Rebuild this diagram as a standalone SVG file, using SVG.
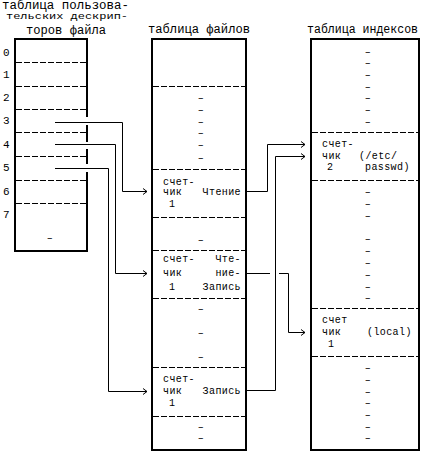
<svg xmlns="http://www.w3.org/2000/svg" width="422" height="454" viewBox="0 0 422 454">
<style>
text{font-family:"Liberation Mono","DejaVu Sans Mono",monospace;fill:#000;font-size:10px;letter-spacing:0.4px}
.n{font-size:11px;letter-spacing:0}
.t{font-size:12px;letter-spacing:0}
.t2{font-size:9px;letter-spacing:0}
.b{fill:none;stroke:#000;stroke-width:2}
.d{stroke:#000;stroke-width:1;stroke-dasharray:6 2;fill:none}
.c{fill:none;stroke:#000;stroke-width:1}
.m{text-anchor:middle}
.e{text-anchor:end}
</style>
<defs>
<marker id="ah" markerWidth="8" markerHeight="8" refX="6" refY="4" orient="auto" markerUnits="userSpaceOnUse">
<polyline points="2,1 6,4 2,7" fill="none" stroke="#000" stroke-width="1"/>
</marker>
</defs>
<rect width="422" height="454" fill="#fff"/>

<g id="user-fd-table">
<text class="t" x="2" y="9" textLength="127" lengthAdjust="spacingAndGlyphs">таблица пользова-</text>
<text class="t2" x="6" y="19" textLength="122" lengthAdjust="spacingAndGlyphs">тельских дескрип-</text>
<text class="t" x="26" y="34" textLength="80" lengthAdjust="spacingAndGlyphs">торов файла</text>
<path class="b" d="M87,117 V39 H15 V251 H87 V172 M87,164 V149 M87,142 V125"/>
<line class="d" x1="16" y1="62.5" x2="86" y2="62.5"/>
<line class="d" x1="16" y1="86.5" x2="86" y2="86.5"/>
<line class="d" x1="16" y1="109.5" x2="86" y2="109.5"/>
<line class="d" x1="16" y1="132.5" x2="86" y2="132.5"/>
<line class="d" x1="16" y1="156.5" x2="86" y2="156.5"/>
<line class="d" x1="16" y1="180.5" x2="86" y2="180.5"/>
<line class="d" x1="16" y1="203.5" x2="86" y2="203.5"/>
<text class="n" x="3" y="56">0</text>
<text class="n" x="3" y="78">1</text>
<text class="n" x="3" y="101">2</text>
<text class="n" x="3" y="124">3</text>
<text class="n" x="3" y="148">4</text>
<text class="n" x="3" y="171">5</text>
<text class="n" x="3" y="195">6</text>
<text class="n" x="3" y="218">7</text>
<text class="m" x="50" y="241">–</text>
</g>

<g id="file-table">
<text class="t" x="148" y="33" textLength="102" lengthAdjust="spacingAndGlyphs">таблица файлов</text>
<rect class="b" x="152" y="39" width="94" height="411"/>
<line class="d" x1="153" y1="86.5" x2="245" y2="86.5"/>
<line class="d" x1="153" y1="169.5" x2="245" y2="169.5"/>
<line class="d" x1="153" y1="217.5" x2="245" y2="217.5"/>
<line class="d" x1="153" y1="250.5" x2="245" y2="250.5"/>
<line class="d" x1="153" y1="298.5" x2="245" y2="298.5"/>
<line class="d" x1="153" y1="367.5" x2="245" y2="367.5"/>
<line class="d" x1="153" y1="416.5" x2="245" y2="416.5"/>
<text class="m" x="201" y="100.5">–</text>
<text class="m" x="201" y="112.5">–</text>
<text class="m" x="201" y="124.5">–</text>
<text class="m" x="201" y="135.5">–</text>
<text class="m" x="201" y="147.5">–</text>
<text class="m" x="201" y="160.5">–</text>
<text class="m" x="201" y="242.5">–</text>
<text class="m" x="201" y="311.5">–</text>
<text class="m" x="201" y="335.5">–</text>
<text class="m" x="201" y="359.5">–</text>
<text class="m" x="201" y="429.5">–</text>
<text class="m" x="201" y="440.5">–</text>
<text x="163" y="185">счет-</text>
<text x="163" y="195">чик</text>
<text class="e" x="241" y="195">Чтение</text>
<text x="169" y="207">1</text>
<text x="163" y="262">счет-</text>
<text class="e" x="241" y="262">Чте-</text>
<text x="163" y="276">чик</text>
<text class="e" x="241" y="276">ние-</text>
<text x="169" y="290">1</text>
<text class="e" x="241" y="290">Запись</text>
<text x="163" y="382">счет-</text>
<text x="163" y="394">чик</text>
<text class="e" x="241" y="394">Запись</text>
<text x="169" y="406">1</text>
</g>

<g id="inode-table">
<text class="t" x="307" y="33" textLength="111" lengthAdjust="spacingAndGlyphs">таблица индексов</text>
<rect class="b" x="311" y="39" width="108" height="411"/>
<line class="d" x1="312" y1="132.5" x2="418" y2="132.5"/>
<line class="d" x1="312" y1="180.5" x2="418" y2="180.5"/>
<line class="d" x1="312" y1="308.5" x2="418" y2="308.5"/>
<line class="d" x1="312" y1="356.5" x2="418" y2="356.5"/>
<text class="m" x="368" y="55">–</text>
<text class="m" x="368" y="65.5">–</text>
<text class="m" x="368" y="77.5">–</text>
<text class="m" x="368" y="89.5">–</text>
<text class="m" x="368" y="100.5">–</text>
<text class="m" x="368" y="112.5">–</text>
<text class="m" x="368" y="124.5">–</text>
<text class="m" x="368" y="194.5">–</text>
<text class="m" x="368" y="206.5">–</text>
<text class="m" x="368" y="218.5">–</text>
<text class="m" x="368" y="241.5">–</text>
<text class="m" x="368" y="253.5">–</text>
<text class="m" x="368" y="265.5">–</text>
<text class="m" x="368" y="277.5">–</text>
<text class="m" x="368" y="289.5">–</text>
<text class="m" x="368" y="300.5">–</text>
<text class="m" x="368" y="370.5">–</text>
<text class="m" x="368" y="382.5">–</text>
<text class="m" x="368" y="394.5">–</text>
<text class="m" x="368" y="405.5">–</text>
<text class="m" x="368" y="417.5">–</text>
<text class="m" x="368" y="429.5">–</text>
<text class="m" x="368" y="440.5">–</text>
<text x="322" y="147">счет-</text>
<text x="322" y="159">чик</text>
<text x="359" y="159">(/etc/</text>
<text x="327" y="170">2</text>
<text x="365" y="170">passwd)</text>
<text x="322" y="323">счет</text>
<text x="322" y="335">чик</text>
<text x="367" y="335">(local)</text>
<text x="328" y="347">1</text>
</g>

<g id="connectors">
<polyline class="c" points="55,122.5 122.5,122.5 122.5,191.5 147,191.5" marker-end="url(#ah)"/>
<polyline class="c" points="55,144.5 115.5,144.5 115.5,273.5 147,273.5" marker-end="url(#ah)"/>
<polyline class="c" points="55,168.5 108.5,168.5 108.5,391.5 147,391.5" marker-end="url(#ah)"/>
<polyline class="c" points="247,191.5 267.5,191.5 267.5,144.5 305,144.5" marker-end="url(#ah)"/>
<polyline class="c" points="247,390.5 275.5,390.5 275.5,156.5 305,156.5" marker-end="url(#ah)"/>
<line class="c" x1="247" y1="273.5" x2="270" y2="273.5"/>
<polyline class="c" points="279,273.5 288.5,273.5 288.5,332.5 305,332.5" marker-end="url(#ah)"/>
</g>
</svg>
